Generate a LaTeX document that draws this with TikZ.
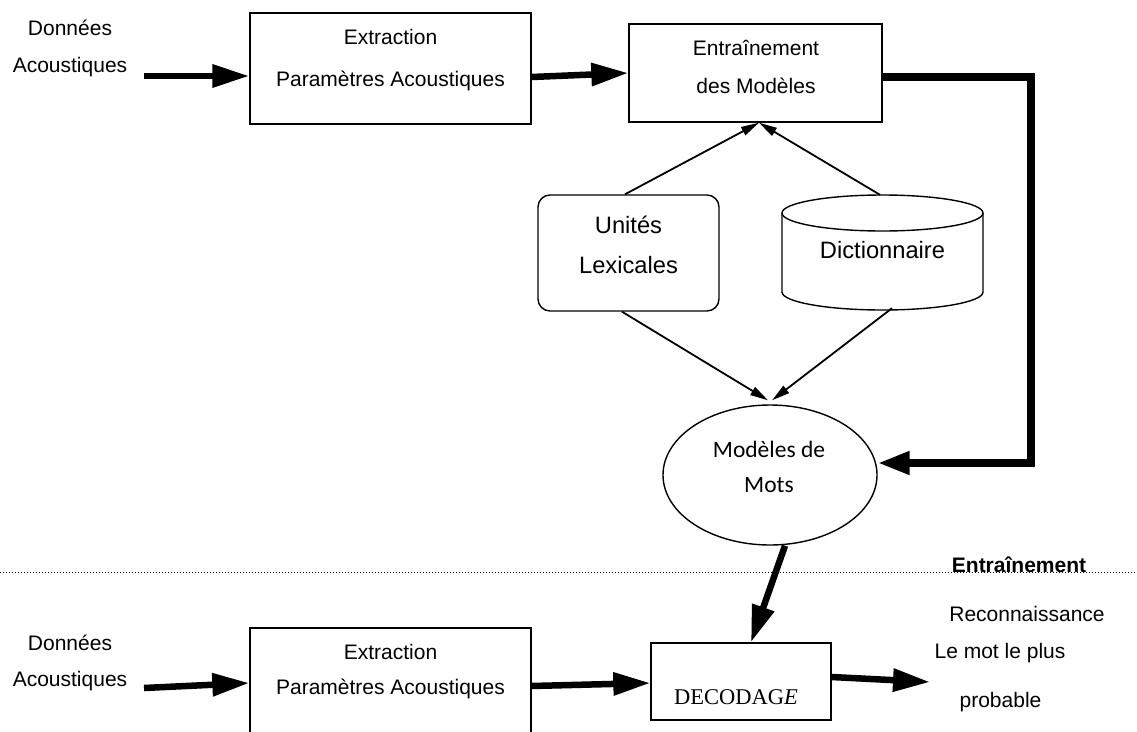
\documentclass[tikz,border=0pt]{standalone}
\usepackage{fontspec}
\setmainfont{Liberation Sans}
\newfontfamily\calibfont{Carlito}
\newfontfamily\timesfont{Liberation Serif}
\usetikzlibrary{arrows.meta,shapes.geometric,calc}
\begin{document}
\begin{tikzpicture}[x=1pt,y=-1pt,
  box/.style={draw,line width=1.4pt,inner sep=0pt},
  txt/.style={inner sep=0pt,anchor=base,font=\fontsize{21}{25}\selectfont},
  txtb/.style={inner sep=0pt,anchor=base,font=\fontsize{23.7}{28}\selectfont},
  txtc/.style={inner sep=0pt,anchor=base,font=\calibfont\fontsize{23.5}{28}\selectfont},
  fat/.style={line width=6.5pt,-{Triangle[length=37pt,width=22pt]}},
  fb/.style={line width=7.5pt,line join=miter,-{Triangle[length=32pt,width=22pt]}},
  slim/.style={line width=1.8pt,-{Triangle[length=18pt,width=9pt]}},
  sep/.style={line width=1pt,dash pattern=on 1pt off 2pt}
]
\useasboundingbox (0,0) rectangle (1137,731);
\clip (0,0) rectangle (1137,731);

% ---------- boxes ----------
\node[box,minimum width=281pt,minimum height=111pt] (ex1) at (390.5,68.5) {};
\node[box,minimum width=253pt,minimum height=98pt] (ent) at (755.5,73) {};
\node[box,rounded corners=12pt,minimum width=181pt,minimum height=116pt] (uni) at (628.5,253) {};
\node[inner sep=0pt,minimum width=201pt,minimum height=115pt] (dic) at (882.5,252.5) {};
\draw[line width=1.4pt] (782,213) -- (782,292)
  arc[start angle=180,end angle=360,x radius=100.5pt,y radius=18pt] -- (983,213);
\draw[line width=1.4pt] (882.5,213) ellipse [x radius=100.5pt,y radius=18pt];
\node[draw,ellipse,line width=1.4pt,inner sep=0pt,minimum width=214pt,minimum height=140pt] (mod) at (770,475) {};
\node[box,minimum width=180pt,minimum height=77pt] (dec) at (741,681.5) {};
\node[box,minimum width=281pt,minimum height=140pt] (ex2) at (390.5,698) {};

% ---------- texts ----------
\node[txt] (d1a) at (70,35) {Données};
\node[txt] (d1b) at (70,72.5) {Acoustiques};
\node[txt] (e1a) at (390.5,44) {Extraction};
\node[txt] (e1b) at (390.5,86) {Paramètres Acoustiques};
\node[txt] (t1a) at (756,55) {Entraînement};
\node[txt] (t1b) at (756,93) {des Modèles};
\node[txtb] (u1) at (628.5,233) {Unités};
\node[txtb] (u2) at (628.5,273) {Lexicales};
\node[txtb] (dt) at (882.5,258) {Dictionnaire};
\node[txtc] (m1) at (769,457) {Modèles de};
\node[txtc] (m2) at (769,492) {Mots};
\node[inner sep=0pt,anchor=base,font=\timesfont\fontsize{22.5}{26}\selectfont] (dc) at (736,704) {DECODAG\textit{E}};
\node[txt] (d2a) at (70,650) {Données};
\node[txt] (d2b) at (70,686) {Acoustiques};
\node[txt] (e2a) at (390.5,659.5) {Extraction};
\node[txt] (e2b) at (390.5,694.5) {Paramètres Acoustiques};
\node[txt,font=\bfseries\fontsize{21}{25}\selectfont] (lt) at (1019,572) {Entraînement};
\node[txt] (lr) at (1027,621) {Reconnaissance};
\node[txt] (lm1) at (1000,658) {Le mot le plus};
\node[txt] (lm2) at (1000.5,707) {probable};

% ---------- separator ----------
\coordinate (sl) at (0,572);
\coordinate (sr) at (1137,572);
\draw[sep] (sl) -- (sr);

% ---------- connectors ----------
\coordinate (s1) at (144,76);
\draw[fat] (s1) -- (ex1.west |- s1);
\draw[fat] ([yshift=-8.5pt]ex1.east) -- (ent.west);
\coordinate (c1) at (1031,77);
\coordinate (c2) at (1031,463);
\draw[fb] ([yshift=-4pt]ent.east) -- (c1) -- (c2) -- ([yshift=12pt]mod.east);
\draw[slim] ([xshift=-3.5pt]uni.north) -- ([xshift=3.5pt]ent.south);
\draw[slim] ([xshift=-2.5pt]dic.north) -- ([xshift=3.5pt]ent.south);
\draw[slim] ([xshift=-6.5pt]uni.south) -- ([xshift=-2pt,yshift=4pt]mod.north);
\draw[slim] ([xshift=9.5pt,yshift=2pt]dic.south) -- ([xshift=2pt,yshift=4pt]mod.north);
\draw[fat] ([xshift=15pt]mod.south) -- ([xshift=10pt]dec.north);
\coordinate (s2) at (144,688);
\draw[fat] (s2) -- ([yshift=15pt]ex2.west);
\draw[fat] ([yshift=12pt]ex2.east) -- ([yshift=-1.5pt]dec.west);
\coordinate (o1) at (930,682);
\draw[fat] ([yshift=4.5pt]dec.east) -- (o1);
\end{tikzpicture}
\end{document}
